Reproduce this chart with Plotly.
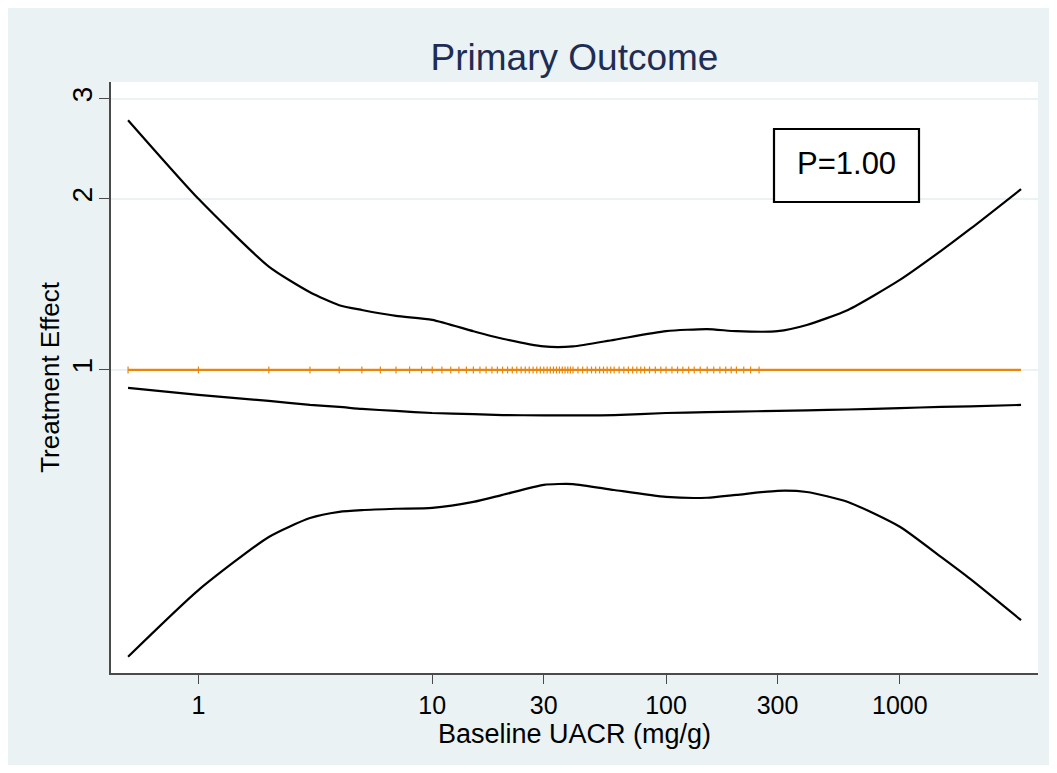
import plotly.graph_objects as go

# Data
uacr = [0.5, 1, 2, 3, 4, 5, 7, 10, 15, 20, 30, 40, 60, 100, 150, 200, 300, 400, 600, 1000, 1500, 2000, 3300]
upper_ci = [2.75, 2.00, 1.52, 1.37, 1.30, 1.275, 1.245, 1.225, 1.17, 1.135, 1.10, 1.10, 1.13, 1.17, 1.18, 1.17, 1.17, 1.20, 1.275, 1.44, 1.62, 1.77, 2.08]
effect = [0.930, 0.904, 0.882, 0.868, 0.861, 0.854, 0.847, 0.840, 0.836, 0.833, 0.832, 0.832, 0.833, 0.840, 0.843, 0.845, 0.847, 0.849, 0.852, 0.857, 0.861, 0.863, 0.868]
lower_ci = [0.313, 0.410, 0.5085, 0.549, 0.563, 0.567, 0.570, 0.572, 0.586, 0.603, 0.628, 0.630, 0.615, 0.598, 0.596, 0.603, 0.613, 0.610, 0.586, 0.530, 0.469, 0.429, 0.363]
ref_x = [0.5, 3300]
ref_y = [1, 1]
rug_x = [0.5, 1, 2, 3, 4, 5, 6, 7, 8, 9, 10, 11, 12, 13, 14, 15, 16, 17, 18, 19, 20,
         21, 22, 23, 24, 25, 26, 27, 28, 29, 30, 31, 32, 33, 34, 35, 36, 37, 38, 39, 40,
         42, 44, 46, 48, 50, 52, 54, 56, 58, 60, 63, 66, 69, 72, 75, 78, 81, 85, 90, 95, 100,
         106, 112, 118, 125, 132, 140, 150, 160, 170, 180, 190, 200, 215, 230, 250]
x_ticks = [1, 10, 30, 100, 300, 1000]
y_ticks = [1, 2, 3]
title = "Primary Outcome"
x_title = "Baseline UACR (mg/g)"
y_title = "Treatment Effect"
p_text = "P=1.00"

FONT = "Liberation Sans, Arial, Helvetica, sans-serif"
ORANGE = "#E8860C"
BG = "#EAF2F3"
AX = "#4a4a4a"

fig = go.Figure()
fig.add_trace(go.Scatter(x=ref_x, y=ref_y, mode="lines",
                         line=dict(color=ORANGE, width=2.2), hoverinfo="skip"))
fig.add_trace(go.Scatter(x=rug_x, y=[1] * len(rug_x), mode="markers",
                         marker=dict(symbol="line-ns", size=5, line=dict(color=ORANGE, width=1.2)),
                         hoverinfo="skip"))
for ys in (upper_ci, effect, lower_ci):
    fig.add_trace(go.Scatter(x=uacr, y=ys, mode="lines",
                             line=dict(color="black", width=2.2, shape="spline", smoothing=0.6)))

W, H = 1049, 757
L, R, T, B = 103, 19, 74, 92
pw, ph = W - L - R, H - T - B

def px_to_paper_x(px):
    return (px - 8 - L) / pw

def px_to_paper_y(py):
    return (H - B - (py - 8)) / ph

shapes = [
    dict(type="rect", xref="paper", yref="paper", layer="below",
         x0=0, x1=1, y0=0, y1=1, fillcolor="white", line=dict(width=0)),
    dict(type="rect", xref="paper", yref="paper", layer="above",
         x0=px_to_paper_x(774), x1=px_to_paper_x(919), y0=px_to_paper_y(202), y1=px_to_paper_y(129),
         fillcolor="white", line=dict(color="black", width=2.2)),
]

fig.update_layout(
    width=W, height=H,
    margin=dict(l=L, r=R, t=T, b=B),
    paper_bgcolor=BG, plot_bgcolor="white",
    showlegend=False,
    font=dict(family=FONT, color="black"),
    title=dict(text=title, x=(L + pw / 2) / W, xanchor="center", y=1 - 49 / H, yanchor="middle",
               font=dict(size=37, color="#1E2D53", family=FONT)),
    shapes=shapes,
    annotations=[dict(text=p_text, xref="paper", yref="paper",
                      x=px_to_paper_x(846.5), y=px_to_paper_y(163), xanchor="center", yanchor="middle",
                      showarrow=False, font=dict(size=31, color="black", family=FONT))],
)
fig.update_xaxes(type="log", range=[-0.374, 3.591], tickvals=x_ticks, ticktext=[str(v) for v in x_ticks],
                 showgrid=False, zeroline=False, showline=True, linecolor=AX, linewidth=1.5,
                 ticks="outside", ticklen=9, tickwidth=1.3, tickcolor=AX,
                 tickfont=dict(size=25, family=FONT),
                 title=dict(text=x_title, font=dict(size=27, family=FONT), standoff=4))
fig.update_yaxes(type="log", range=[-0.533, 0.5065], tickvals=y_ticks, ticktext=[str(v) for v in y_ticks],
                 showgrid=True, gridcolor=BG, gridwidth=2, zeroline=False,
                 showline=True, linecolor=AX, linewidth=1.5,
                 ticks="outside", ticklen=10, tickwidth=1.3, tickcolor=AX, tickangle=-90,
                 ticklabelstandoff=-4,
                 tickfont=dict(size=28, family=FONT),
                 title=dict(text=y_title, font=dict(size=26, family=FONT), standoff=0))

fig.write_html("out.html")
